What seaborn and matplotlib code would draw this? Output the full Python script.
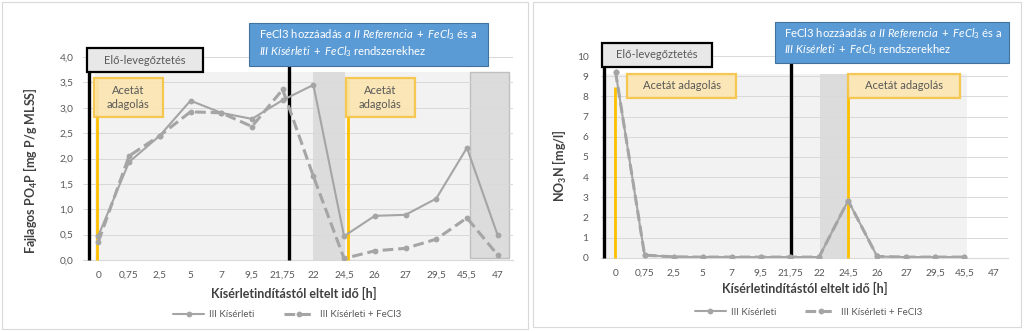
import numpy as np
import pandas as pd
import matplotlib
matplotlib.use("Agg")
import matplotlib.pyplot as plt
from matplotlib.patches import Rectangle
import seaborn as sns

categories = ["0", "0,75", "2,5", "5", "7", "9,5", "21,75", "22", "24,5", "26", "27", "29,5", "45,5", "47"]
po4_kiserleti = [0.48, 1.93, 2.45, 3.14, 2.90, 2.78, 3.15, 3.45, 0.47, 0.87, 0.89, 1.21, 2.21, 0.49]
po4_kiserleti_fecl3 = [0.36, 2.05, 2.45, 2.92, 2.90, 2.63, 3.36, 1.65, 0.03, 0.18, 0.23, 0.41, 0.83, 0.10]
no3_kiserleti = [9.22, 0.13, 0.04, 0.03, 0.03, 0.03, 0.03, 0.03, 2.83, 0.06, 0.03, 0.03, 0.03, np.nan]
no3_kiserleti_fecl3 = [9.22, 0.13, 0.04, 0.03, 0.03, 0.03, 0.03, 0.03, 2.83, 0.06, 0.03, 0.03, 0.03, np.nan]
series_names = ["III Kísérleti", "III Kísérleti + FeCl3"]
po4_ticks = [0.0, 0.5, 1.0, 1.5, 2.0, 2.5, 3.0, 3.5, 4.0]
no3_ticks = list(range(0, 11))

sns.set_theme(style="white")
plt.rcParams["font.family"] = ["Lato", "DejaVu Sans"]
plt.rcParams["mathtext.fontset"] = "custom"
plt.rcParams["mathtext.rm"] = "Lato"
plt.rcParams["mathtext.it"] = "Lato:italic"
plt.rcParams["mathtext.bf"] = "Lato:bold"

GRAY_LINE = "#a5a5a5"
TXT = "#595959"
GRID = "#d9d9d9"
YEL = "#ffc000"
YEL_FILL = "#fbe5b0"
YEL_EDGE = "#f6c443"
BLUE = "#5b9bd5"
BLUE_EDGE = "#41719c"

W, H = 1024, 331
fig = plt.figure(figsize=(W / 100, H / 100), dpi=100)
fig.patch.set_facecolor("white")

def px_axes(x0, x1, ytop, ybot):
    return fig.add_axes([x0 / W, (H - ybot) / H, (x1 - x0) / W, (ybot - ytop) / H])

# panel frames
for (x0, y0, x1, y1) in [(2, 2, 528, 329), (533, 2, 1021, 327)]:
    fig.patches.append(Rectangle((x0 / W, (H - y1) / H), (x1 - x0) / W, (y1 - y0) / H,
                                 transform=fig.transFigure, fill=False, edgecolor="#d9d9d9", lw=0.8))

ax1 = px_axes(83, 513, 57, 260)
ax2 = px_axes(601, 1008, 56, 257.7)

pos = np.arange(len(categories))

def make_df(v1, v2):
    return pd.DataFrame({
        "pos": np.concatenate([pos, pos]),
        "val": np.concatenate([v1, v2]),
        "series": [series_names[0]] * len(pos) + [series_names[1]] * len(pos),
    })

def style_axes(ax, ticks, ylim, ticklabels):
    ax.set_xlim(-0.5, len(categories) - 0.5)
    ax.set_ylim(*ylim)
    ax.set_yticks(ticks)
    ax.set_yticklabels(ticklabels)
    ax.set_xticks(pos)
    ax.set_xticklabels(categories)
    ax.tick_params(axis="both", length=0, labelsize=7.3, colors=TXT)
    ax.tick_params(axis="y", pad=7)
    ax.tick_params(axis="x", pad=8)
    for s in ["top", "right", "left"]:
        ax.spines[s].set_visible(False)
    ax.spines["bottom"].set_color(GRID)
    ax.spines["bottom"].set_linewidth(0.8)
    ax.yaxis.grid(True, color=GRID, lw=0.7)
    ax.set_axisbelow(True)
    ax.set_facecolor("none")
    ax.set_xlabel("")
    ax.set_ylabel("")

def rect(ax, x0, x1, y0, y1, fc, ec="none", lw=0, z=0.2, alpha=1.0):
    ax.add_patch(Rectangle((x0, y0), x1 - x0, y1 - y0, facecolor=fc, edgecolor=ec,
                           lw=lw, zorder=z, clip_on=False, alpha=alpha))

def vline(ax, x, y0, y1, color, lw, z=3):
    ax.plot([x, x], [y0, y1], color=color, lw=lw, zorder=z, clip_on=False, solid_capstyle="butt")

def draw_lines(ax, df):
    sns.lineplot(data=df, x="pos", y="val", style="series", ax=ax,
                 color=GRAY_LINE, markers={series_names[0]: "o", series_names[1]: "o"},
                 dashes={series_names[0]: "", series_names[1]: (3.5, 1.6)},
                 markersize=4.2, markeredgewidth=0, zorder=4, legend=True)
    lines = ax.get_lines()
    if len(lines) >= 2:
        lines[0].set_linewidth(1.5)
        lines[1].set_linewidth(2.2)
    leg = ax.get_legend()
    handles, labels = ax.get_legend_handles_labels()
    if leg is not None:
        leg.remove()
    for h in handles:
        h.set_color(GRAY_LINE)
    handles[0].set_linewidth(1.5)
    handles[1].set_linewidth(2.2)
    return handles, labels

BLUE_L1 = r"FeCl3 hozzáadás $\mathit{a\ II\ Referencia\ +\ FeCl_3}$ és a"
BLUE_L2 = r"$\mathit{III\ Kísérleti\ +\ FeCl_3}$ rendszerekhez"

# ---------- left chart ----------
df1 = make_df(po4_kiserleti, po4_kiserleti_fecl3)
h1, l1 = draw_lines(ax1, df1)
style_axes(ax1, po4_ticks, (0, 4.0), [f"{t:.1f}".replace(".", ",") for t in po4_ticks])

rect(ax1, -0.11, 13.4, 0, 3.7, "#f2f2f2", z=0.1)
rect(ax1, 7.0, 8.03, 0, 3.7, "#dcdcdc", z=0.15)
rect(ax1, 12.1, 13.37, 0.04, 3.7, "#dcdcdc", ec="#bfbfbf", lw=1.0, z=0.15)

vline(ax1, -0.31, 0, 4.18, "black", 2.4)
vline(ax1, 6.2, 0, 3.83, "black", 2.4)
vline(ax1, -0.05, 0, 3.55, YEL, 2.0)
vline(ax1, 8.13, 0, 3.55, YEL, 2.0)

rect(ax1, -0.37, 3.41, 3.70, 4.18, "#e8e8e8", ec="black", lw=1.6, z=6)
ax1.text(1.52, 3.94, "Elő-levegőztetés", ha="center", va="center", fontsize=8, color=TXT, zorder=7)
for (bx0, bx1) in [(-0.14, 2.1), (8.06, 10.31)]:
    rect(ax1, bx0, bx1, 2.82, 3.59, YEL_FILL, ec=YEL_EDGE, lw=1.6, z=6, alpha=0.9)
    ax1.text((bx0 + bx1) / 2, 3.205, "Acetát\nadagolás", ha="center", va="center",
             fontsize=8, color=TXT, zorder=7, linespacing=1.3)
rect(ax1, 4.91, 12.69, 3.83, 4.67, BLUE, ec=BLUE_EDGE, lw=0.8, z=6)
ax1.text(5.24, 4.45, BLUE_L1, ha="left", va="center", fontsize=8.1, color="white", zorder=7)
ax1.text(5.24, 4.11, BLUE_L2, ha="left", va="center", fontsize=8.1, color="white", zorder=7)

ax1.text(0.49, -0.165, "Kísérletindítástól eltelt idő [h]", transform=ax1.transAxes,
         ha="center", va="center", fontsize=9, fontweight="bold", color="#404040")
ax1.text(-0.122, 0.44, r"Fajlagos PO$_\mathbf{4}$P [mg P/g MLSS]", transform=ax1.transAxes,
         ha="center", va="center", rotation=90, fontsize=9, fontweight="bold", color="#404040")
ax1.legend(h1, l1, loc="center", bbox_to_anchor=(0.475, -0.268), ncol=2, frameon=False,
           fontsize=7, labelcolor=TXT, handlelength=3.2, columnspacing=3.0, handletextpad=0.5)

# ---------- right chart ----------
df2 = make_df(no3_kiserleti, no3_kiserleti_fecl3)
h2, l2 = draw_lines(ax2, df2)
style_axes(ax2, no3_ticks, (0, 10), [str(t) for t in no3_ticks])
ax2.tick_params(axis="y", pad=9)

rect(ax2, -0.36, 12.09, 0, 9.1, "#f2f2f2", z=0.1)
rect(ax2, 7.03, 7.99, 0, 9.1, "#dcdcdc", z=0.15)

vline(ax2, -0.40, 0, 10.65, "black", 2.4)
vline(ax2, 6.04, 0, 9.65, "black", 2.4)
vline(ax2, -0.02, 0, 8.46, YEL, 2.0)
vline(ax2, 8.0, 0, 8.37, YEL, 2.0)

rect(ax2, -0.46, 3.32, 9.45, 10.65, "#e8e8e8", ec="black", lw=1.6, z=6)
ax2.text(1.43, 10.05, "Elő-levegőztetés", ha="center", va="center", fontsize=8, color=TXT, zorder=7)
for (bx0, bx1) in [(0.4, 4.14), (8.0, 11.85)]:
    rect(ax2, bx0, bx1, 7.92, 9.11, YEL_FILL, ec=YEL_EDGE, lw=1.6, z=6, alpha=0.9)
    ax2.text((bx0 + bx1) / 2, 8.52, "Acetát adagolás", ha="center", va="center",
             fontsize=8, color=TXT, zorder=7)
rect(ax2, 5.48, 13.53, 9.65, 11.69, BLUE, ec=BLUE_EDGE, lw=0.8, z=6)
ax2.text(5.78, 11.13, BLUE_L1, ha="left", va="center", fontsize=8.1, color="white", zorder=7)
ax2.text(5.78, 10.33, BLUE_L2, ha="left", va="center", fontsize=8.1, color="white", zorder=7)

ax2.text(0.5, -0.155, "Kísérletindítástól eltelt idő [h]", transform=ax2.transAxes,
         ha="center", va="center", fontsize=9, fontweight="bold", color="#404040")
ax2.text(-0.10, 0.455, r"NO$_\mathbf{3}$N [mg/l]", transform=ax2.transAxes,
         ha="center", va="center", rotation=90, fontsize=9, fontweight="bold", color="#404040")
ax2.legend(h2, l2, loc="center", bbox_to_anchor=(0.51, -0.27), ncol=2, frameon=False,
           fontsize=7, labelcolor=TXT, handlelength=3.2, columnspacing=3.0, handletextpad=0.5)

fig.savefig("out.png", dpi=100, facecolor="white")
